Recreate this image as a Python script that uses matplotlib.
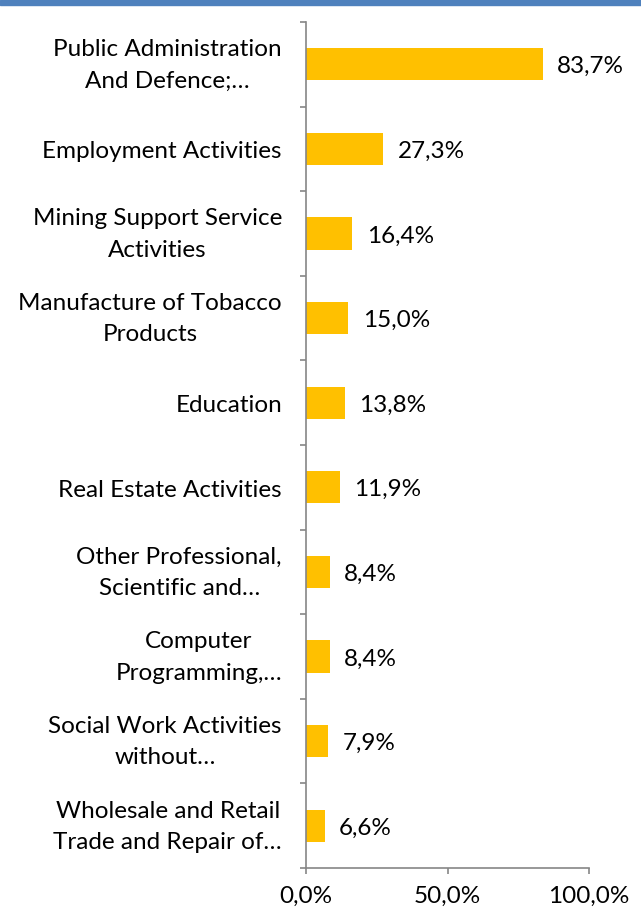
import numpy as np
from matplotlib import pyplot as plt
from matplotlib.patches import Rectangle
from matplotlib.transforms import ScaledTranslation

plt.rcParams["font.family"] = ["Lato", "DejaVu Sans"]

categories = [
    "Public Administration\nAnd Defence;…",
    "Employment Activities",
    "Mining Support Service\nActivities",
    "Manufacture of Tobacco\nProducts",
    "Education",
    "Real Estate Activities",
    "Other Professional,\nScientific and…",
    "Computer\nProgramming,…",
    "Social Work Activities\nwithout…",
    "Wholesale and Retail\nTrade and Repair of…",
]
values = [83.7, 27.3, 16.4, 15.0, 13.8, 11.9, 8.4, 8.4, 7.9, 6.6]
xticks = [0, 50, 100]

fs = 17.5
fig = plt.figure(figsize=(6.41, 9.17), dpi=100)
ax = fig.add_axes([306 / 641, 1 - 868 / 917, (589 - 306) / 641, (868 - 22) / 917])

y = np.arange(len(categories))
ax.barh(y, values, height=0.38, color="#FFC000")
for yi, v in zip(y, values):
    ax.text(v + 5, yi + 0.03, f"{v:.1f}%".replace(".", ","), va="center", ha="left", fontsize=fs)

ax.set_ylim(len(categories) - 0.5, -0.5)
ax.set_xlim(0, 100)
ax.set_yticks(np.arange(-0.5, len(categories)))
ax.set_yticklabels([])
ax.tick_params(axis="y", length=4, color="#868686", width=1.2)

# category labels, centred lines in a right-aligned block
for yi, cat in zip(y, categories):
    dy = -1 if "\n" in cat else -3
    tr = ax.get_yaxis_transform() + ScaledTranslation(-24 / 100, dy / 100, fig.dpi_scale_trans)
    ax.text(0, yi, cat, transform=tr, ha="right", va="center", multialignment="center",
            linespacing=1.6, fontsize=fs)

ax.set_xticks(xticks)
ax.set_xticklabels([f"{t:.1f}%".replace(".", ",") for t in xticks], fontsize=fs)
ax.tick_params(axis="x", length=4, color="#868686", width=1.2, pad=9)

for s in ["top", "right"]:
    ax.spines[s].set_visible(False)
for s in ["left", "bottom"]:
    ax.spines[s].set_color("#868686")
    ax.spines[s].set_linewidth(1.2)

fig.patches.append(Rectangle((0, 1 - 5 / 917), 1, 5 / 917, transform=fig.transFigure,
                             color="#4F81BD", zorder=10))

plt.savefig("out.png", dpi=100)
plt.close()
